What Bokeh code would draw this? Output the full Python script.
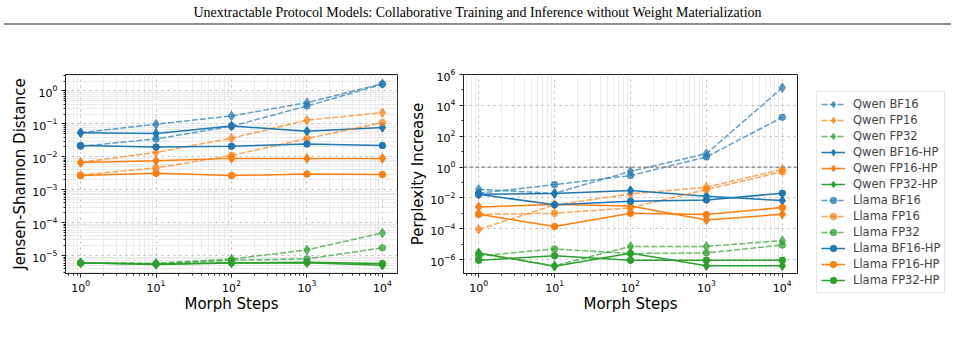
import numpy as np
from bokeh.plotting import figure
from bokeh.models import Range1d, FixedTicker, Span, Legend, LegendItem, Div
from bokeh.layouts import column, row
from bokeh.embed import file_html
from bokeh.resources import INLINE

# ---------------- data ----------------
steps = [1, 10, 100, 1000, 10000]

series_names = ["Qwen BF16", "Qwen FP16", "Qwen FP32",
                "Qwen BF16-HP", "Qwen FP16-HP", "Qwen FP32-HP",
                "Llama BF16", "Llama FP16", "Llama FP32",
                "Llama BF16-HP", "Llama FP16-HP", "Llama FP32-HP"]

# Jensen-Shannon distance
js_qwen_bf16 = [0.054, 0.098, 0.175, 0.44, 1.67]
js_qwen_fp16 = [0.0068, 0.0137, 0.037, 0.13, 0.22]
js_qwen_fp32 = [6.1e-6, 5.9e-6, 7.9e-6, 1.5e-5, 4.9e-5]
js_qwen_bf16_hp = [0.054, 0.051, 0.087, 0.060, 0.078]
js_qwen_fp16_hp = [0.0067, 0.0076, 0.0090, 0.0090, 0.0090]
js_qwen_fp32_hp = [6.1e-6, 5.4e-6, 6.0e-6, 6.1e-6, 5.1e-6]
js_llama_bf16 = [0.021, 0.035, 0.085, 0.35, 1.6]
js_llama_fp16 = [0.0028, 0.0046, 0.011, 0.036, 0.11]
js_llama_fp32 = [6.0e-6, 5.7e-6, 7.3e-6, 8.0e-6, 1.74e-5]
js_llama_bf16_hp = [0.022, 0.020, 0.021, 0.0245, 0.022]
js_llama_fp16_hp = [0.0027, 0.0032, 0.0027, 0.0030, 0.0029]
js_llama_fp32_hp = [6.0e-6, 5.6e-6, 6.1e-6, 6.3e-6, 5.8e-6]

# Perplexity increase
ppl_qwen_bf16 = [0.036, 0.020, 0.53, 7.4, 1.4e5]
ppl_qwen_fp16 = [9e-5, 0.0035, 0.018, 0.05, 0.7]
ppl_qwen_fp32 = [2.5e-6, 4.0e-7, 7.2e-6, 7.2e-6, 1.7e-5]
ppl_qwen_bf16_hp = [0.017, 0.019, 0.030, 0.013, 0.0067]
ppl_qwen_fp16_hp = [0.0026, 0.0037, 0.0030, 0.00037, 0.00087]
ppl_qwen_fp32_hp = [2.7e-6, 3.7e-7, 2.6e-6, 4.0e-7, 4.0e-7]
ppl_llama_bf16 = [0.020, 0.073, 0.28, 4.5, 1700]
ppl_llama_fp16 = [0.00087, 0.0010, 0.0023, 0.035, 0.5]
ppl_llama_fp32 = [1.7e-6, 4.9e-6, 2.5e-6, 2.7e-6, 8.9e-6]
ppl_llama_bf16_hp = [0.017, 0.0036, 0.0060, 0.0074, 0.020]
ppl_llama_fp16_hp = [0.00087, 0.00014, 0.0010, 0.00083, 0.0024]
ppl_llama_fp32_hp = [9e-7, 1.8e-6, 9e-7, 9e-7, 9e-7]

x_ticks = [1, 10, 100, 1000, 10000]
js_ticks = [1e-5, 1e-4, 1e-3, 1e-2, 1e-1, 1e0]
ppl_ticks = [1e-6, 1e-4, 1e-2, 1e0, 1e2, 1e4, 1e6]
ppl_reference = 1.0

title_text = ("Unextractable Protocol Models: Collaborative Training and "
              "Inference without Weight Materialization")

# ---------------- styles ----------------
series_colors = ["#1f77b4", "#ff7f0e", "#2ca02c"] * 4
series_dashed = ([True] * 3 + [False] * 3) * 2
series_markers = ["diamond"] * 6 + ["circle"] * 6

js_values = [js_qwen_bf16, js_qwen_fp16, js_qwen_fp32,
             js_qwen_bf16_hp, js_qwen_fp16_hp, js_qwen_fp32_hp,
             js_llama_bf16, js_llama_fp16, js_llama_fp32,
             js_llama_bf16_hp, js_llama_fp16_hp, js_llama_fp32_hp]
ppl_values = [ppl_qwen_bf16, ppl_qwen_fp16, ppl_qwen_fp32,
              ppl_qwen_bf16_hp, ppl_qwen_fp16_hp, ppl_qwen_fp32_hp,
              ppl_llama_bf16, ppl_llama_fp16, ppl_llama_fp32,
              ppl_llama_bf16_hp, ppl_llama_fp16_hp, ppl_llama_fp32_hp]

FONT = "DejaVu Sans"
H = 301
TOP = 34
BOTTOM = H - 34 - 199


def minor_of(lo_exp, hi_exp):
    out = []
    for k in range(lo_exp, hi_exp + 1):
        for m in range(2, 10):
            out.append(m * 10.0 ** k)
    return out


def draw_series(p, ys, i):
    c = series_colors[i]
    dashed = series_dashed[i]
    alpha = 0.7 if dashed else 1.0
    lr = p.line(steps, ys, line_color=c, line_width=1.5, line_alpha=alpha,
                line_dash="6 2" if dashed else "solid")
    if series_markers[i] == "diamond":
        sr = p.scatter(steps, ys, marker="diamond", size=9.5,
                       fill_color=c, line_color=c, fill_alpha=alpha, line_alpha=alpha)
    else:
        sr = p.scatter(steps, ys, marker="circle", size=6.5,
                       fill_color=c, line_color=c, fill_alpha=alpha, line_alpha=alpha)
    return lr, sr


def panel(values, ylabel, ylo, yhi, yticks, yminor, width, left, right,
          ref=None, y_minor_grid=True):
    p = figure(width=width, height=H, x_axis_type="log", y_axis_type="log",
               x_range=Range1d(10 ** -0.2, 10 ** 4.2), y_range=Range1d(ylo, yhi),
               output_backend="svg", toolbar_location=None, title=None,
               min_border_left=left, min_border_right=right,
               min_border_top=TOP, min_border_bottom=BOTTOM)
    p.xaxis.ticker = FixedTicker(ticks=x_ticks, minor_ticks=minor_of(-1, 4))
    p.yaxis.ticker = FixedTicker(ticks=yticks, minor_ticks=yminor)
    p.outline_line_color = "#222222"
    p.outline_line_width = 1
    p.background_fill_color = "white"
    p.border_fill_color = "white"
    for ax in (p.xaxis, p.yaxis):
        ax.axis_line_color = "#222222"
        ax.major_tick_line_color = "#222222"
        ax.minor_tick_line_color = "#222222"
        ax.major_tick_out = 4
        ax.major_tick_in = 0
        ax.minor_tick_out = 2
        ax.minor_tick_in = 0
        ax.major_label_text_font = FONT
        ax.major_label_text_font_size = "11px"
        ax.major_label_text_color = "black"
        ax.axis_label_text_font = FONT
        ax.axis_label_text_font_size = "15px"
        ax.axis_label_text_font_style = "normal"
        ax.axis_label_text_color = "black"
    p.xaxis.axis_label = "Morph Steps"
    p.yaxis.axis_label = ylabel
    p.xaxis.major_label_standoff = 2
    p.xaxis.axis_label_standoff = 0
    p.yaxis.major_label_standoff = 4
    p.yaxis.axis_label_standoff = 0
    for g in (p.xgrid, p.ygrid):
        g.grid_line_color = "#b0b0b0"
        g.grid_line_dash = "dotted"
        g.grid_line_alpha = 0.9
        g.minor_grid_line_color = "#e6e6e6"
        g.minor_grid_line_alpha = 1.0
        g.minor_grid_line_width = 0.8
    if not y_minor_grid:
        p.ygrid.minor_grid_line_color = None
    if ref is not None:
        p.add_layout(Span(location=ref, dimension="width", line_color="#808080",
                          line_dash="4 2", line_width=1.2, line_alpha=0.9))
    for i, ys in enumerate(values):
        draw_series(p, ys, i)
    return p


p1 = panel(js_values, "Jensen-Shannon Distance", 10 ** -5.54, 10 ** 0.5,
           js_ticks, minor_of(-6, 0), 400, 65, 3)
ppl_minor = [10.0 ** k for k in range(-7, 7, 2)]
p2 = panel(ppl_values, "Perplexity Increase", 10 ** -6.9, 10 ** 6,
           ppl_ticks, ppl_minor, 399, 63, 2, ref=ppl_reference, y_minor_grid=False)

# legend figure (same top/bottom borders so the row keeps frames aligned;
# taller so that its frame reaches below the panels' frames)
pleg = figure(width=156, height=H + 22, x_range=Range1d(-2, -1), y_range=Range1d(0, 1),
              output_backend="svg", toolbar_location=None, title=None,
              min_border_left=0, min_border_top=TOP, min_border_right=0,
              min_border_bottom=BOTTOM)
pleg.axis.visible = False
pleg.grid.visible = False
pleg.outline_line_color = None
items = []
for i, ys in enumerate(ppl_values):
    lr, sr = draw_series(pleg, ys, i)
    items.append(LegendItem(label=series_names[i], renderers=[lr, sr]))
legend = Legend(items=items, location="top_left", margin=17, padding=4, spacing=0,
                ncols=1, label_height=16, glyph_height=16, glyph_width=24,
                label_standoff=8, label_text_font=FONT, label_text_font_size="11.5px",
                border_line_color="#cccccc", border_line_width=1,
                background_fill_alpha=1.0)
pleg.add_layout(legend)

header = Div(text=(
    '<div style="position:relative;width:955px;height:40px;">'
    '<div style="position:absolute;left:0;top:5px;width:955px;text-align:center;'
    "font-family:'Liberation Serif',serif;font-size:14px;line-height:16px;color:#000;\">"
    + title_text +
    '</div><div style="position:absolute;left:4px;top:23px;width:947px;height:2px;'
    'background:#8c8c8c;"></div></div>'), width=955, height=40, margin=0)

layout = column(header, row(p1, p2, pleg, spacing=0), spacing=0)
open("out.html", "w").write(file_html(layout, INLINE))
